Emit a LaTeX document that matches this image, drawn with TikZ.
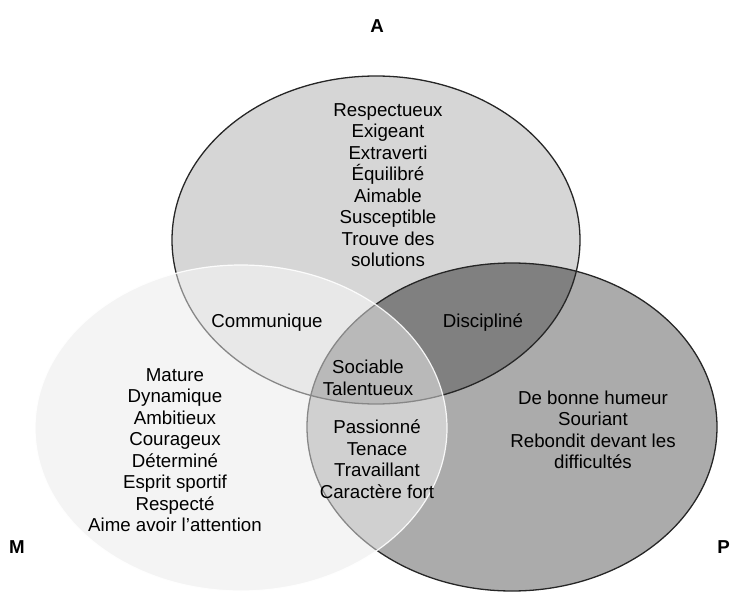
\documentclass[tikz,border=0pt]{standalone}
\usepackage{fontspec}
\setmainfont{Liberation Sans}
\begin{document}
\begin{tikzpicture}[x=1pt,y=-1pt,
  label/.style={font=\fontsize{18.7}{21.5}\selectfont, text=black, align=center, inner sep=0pt},
  setname/.style={font=\fontsize{18.7}{21.5}\selectfont\bfseries, text=black, inner sep=0pt},
  outline/.style={draw=black!85, line width=1.3pt}]
\useasboundingbox (0,0) rectangle (731,596);
% set shapes
\def\setA{(376,240) ellipse [x radius=204pt, y radius=164pt]}
\def\setM{(241,428) ellipse [x radius=206pt, y radius=163pt]}
\def\setP{(512,427) ellipse [x radius=205pt, y radius=164pt]}
% base of M, lying under the two other sets
\fill[black!8] \setM;
% A and P with their overlap
\fill[black!16] \setA;
\fill[black!33] \setP;
\begin{scope}
  \clip \setA;
  \fill[black!50] \setP;
\end{scope}
\draw[outline] \setA;
\draw[outline] \setP;
% M as a pale veil over the others
\fill[white, fill opacity=0.45] \setM;
\draw[white, line width=1.2pt, draw opacity=0.9] \setM;
% set names
\node[setname] (nA) at (377,26) {A};
\node[setname] (nM) at (17,547) {M};
\node[setname, anchor=east] (nP) at (730,547) {P};
% region texts
\node[label] (onlyA) at (388,185) {Respectueux\\Exigeant\\Extraverti\\Équilibré\\Aimable\\Susceptible\\Trouve des\\solutions};
\node[label] (onlyM) at (175,450) {Mature\\Dynamique\\Ambitieux\\Courageux\\Déterminé\\Esprit sportif\\Respecté\\Aime avoir l’attention};
\node[label] (onlyP) at (593,430) {De bonne humeur\\Souriant\\Rebondit devant les\\difficultés};
\node[label] (AM) at (267,323) {Communique};
\node[label] (AP) at (483,323) {Discipliné};
\node[label] (AMP) at (368,378) {Sociable\\Talentueux};
\node[label] (MP) at (377,459) {Passionné\\Tenace\\Travaillant\\Caractère fort};
\end{tikzpicture}
\end{document}
